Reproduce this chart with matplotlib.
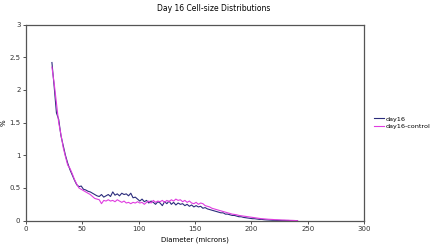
import numpy as np
import matplotlib
matplotlib.use('Agg')
from matplotlib import pyplot as plt

# --- Data (diameter in microns, % of cells)
diameter = np.arange(23, 243, 2)

day16 = [2.42, 2.05, 1.65, 1.55, 1.30, 1.15, 1.00, 0.88, 0.78, 0.70,
         0.62, 0.55, 0.52, 0.53, 0.48, 0.47, 0.45, 0.44, 0.42, 0.40,
         0.38, 0.37, 0.40, 0.36, 0.38, 0.40, 0.37, 0.44, 0.39, 0.41,
         0.38, 0.42, 0.40, 0.41, 0.38, 0.42, 0.35, 0.36, 0.33, 0.30,
         0.33, 0.29, 0.31, 0.27, 0.30, 0.28, 0.25, 0.29, 0.27, 0.23,
         0.29, 0.26, 0.30, 0.25, 0.28, 0.24, 0.27, 0.25, 0.26, 0.23,
         0.25, 0.22, 0.24, 0.21, 0.23, 0.21, 0.22, 0.19, 0.20, 0.18,
         0.17, 0.16, 0.15, 0.14, 0.13, 0.12, 0.12, 0.10, 0.10, 0.09,
         0.08, 0.08, 0.07, 0.06, 0.06, 0.05, 0.045, 0.04, 0.035, 0.03,
         0.03, 0.025, 0.02, 0.02, 0.015, 0.012, 0.01, 0.008, 0.006, 0.005,
         0.004, 0.004, 0.003, 0.003, 0.002, 0.002, 0.001, 0.001, 0.0, 0.0]

control = [2.35, 2.10, 1.80, 1.50, 1.32, 1.12, 0.98, 0.85, 0.80, 0.72,
           0.63, 0.56, 0.50, 0.48, 0.46, 0.44, 0.42, 0.40, 0.37, 0.34,
           0.33, 0.32, 0.26, 0.31, 0.30, 0.32, 0.30, 0.31, 0.29, 0.32,
           0.30, 0.28, 0.30, 0.27, 0.28, 0.26, 0.28, 0.27, 0.29, 0.27,
           0.28, 0.25, 0.28, 0.30, 0.27, 0.31, 0.28, 0.30, 0.29, 0.31,
           0.28, 0.31, 0.29, 0.32, 0.30, 0.33, 0.31, 0.32, 0.29, 0.31,
           0.28, 0.30, 0.27, 0.26, 0.28, 0.25, 0.27, 0.26, 0.23, 0.22,
           0.21, 0.19, 0.18, 0.17, 0.16, 0.15, 0.14, 0.13, 0.12, 0.11,
           0.10, 0.095, 0.09, 0.08, 0.075, 0.07, 0.065, 0.06, 0.055, 0.05,
           0.045, 0.04, 0.035, 0.03, 0.028, 0.025, 0.022, 0.02, 0.018, 0.015,
           0.014, 0.012, 0.01, 0.009, 0.008, 0.007, 0.005, 0.004, 0.002, 0.0]

xticks = [0, 50, 100, 150, 200, 250, 300]
yticks = [0, 0.5, 1, 1.5, 2, 2.5, 3]

# --- Figure
fig = plt.figure(figsize=(4.3, 2.46), dpi=100)
ax = fig.add_axes([0.0605, 0.103, 0.786, 0.797])

ax.plot(diameter, day16, color='#2b2c7c', lw=0.8, label='day16')
ax.plot(diameter, control, color='#e03ce0', lw=0.8, label='day16-control')

ax.set_xlim(0, 300)
ax.set_ylim(0, 3)
ax.set_xticks(xticks)
ax.set_yticks(yticks)
ax.set_xticklabels([str(t) for t in xticks])
ax.set_yticklabels(['0', '0.5', '1', '1.5', '2', '2.5', '3'])
ax.tick_params(labelsize=5, length=2, width=0.6, colors='#333333', pad=2)

for s in ax.spines.values():
    s.set_color('#555555')
    s.set_linewidth(0.9)

fig.text(0.497, 0.965, 'Day 16 Cell-size Distributions', ha='center', va='center', fontsize=5.5)
ax.set_xlabel('Diameter (microns)', fontsize=5, labelpad=3)
ax.set_ylabel('%', fontsize=5, labelpad=2)

ax.legend(loc='center left', bbox_to_anchor=(1.03, 0.50), frameon=False,
          fontsize=4.6, handlelength=1.5, handletextpad=0.3, labelspacing=0.35,
          borderpad=0, borderaxespad=0)

fig.savefig('out.png', dpi=100)
